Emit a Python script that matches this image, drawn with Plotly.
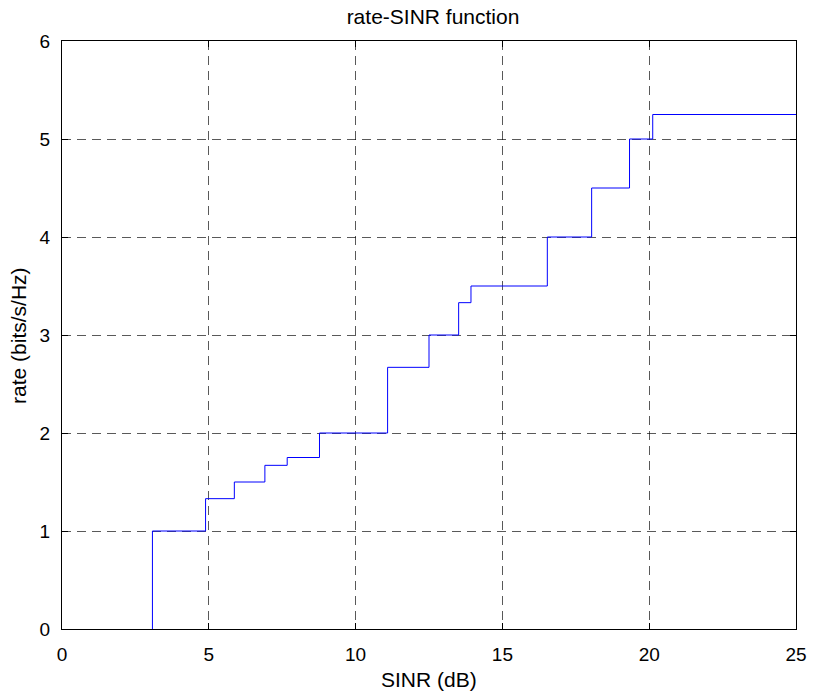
import plotly.graph_objects as go

# SINR thresholds (dB) where the rate steps up, and the rate reached at each step
sinr_thresholds = [3.08, 4.89, 5.87, 6.91, 7.67, 8.77, 11.09, 12.5, 13.51, 13.93, 16.53, 18.04, 19.33, 20.12]
rates = [1.0, 1.33, 1.5, 1.67, 1.75, 2.0, 2.67, 3.0, 3.33, 3.5, 4.0, 4.5, 5.0, 5.25]
sinr_max = 25
x_ticks = [0, 5, 10, 15, 20, 25]
y_ticks = [0, 1, 2, 3, 4, 5, 6]

xs = [sinr_thresholds[0]] + sinr_thresholds + [sinr_max]
ys = [0] + rates + [rates[-1]]

font = "Liberation Sans, Arial, sans-serif"
W, H = 819, 695
L, R, T, B = 62, 15, 41, 66
plot_w, plot_h = W - L - R, H - T - B

fig = go.Figure()
fig.add_trace(go.Scatter(x=xs, y=ys, mode="lines", line=dict(color="#0000FF", width=1, shape="hv"),
                         showlegend=False, hoverinfo="skip"))

axis_common = dict(showline=True, linecolor="black", linewidth=1, mirror="ticks",
                   ticks="inside", ticklen=6, tickcolor="black", tickwidth=1,
                   showgrid=True, gridcolor="rgba(0,0,0,0.65)", gridwidth=1, griddash="9px,6px",
                   zeroline=False, tickfont=dict(family=font, size=19, color="black"))

fig.update_layout(
    width=W, height=H,
    margin=dict(l=L, r=R, t=T, b=B),
    paper_bgcolor="white", plot_bgcolor="white",
    title=dict(text="rate-SINR function", x=(L + plot_w / 2) / W, xanchor="center",
               y=1 - 17 / H, yanchor="middle",
               font=dict(family=font, size=21, color="black")),
    xaxis=dict(range=[0, sinr_max], tickvals=x_ticks, ticklabelstandoff=8, **axis_common),
    yaxis=dict(range=[0, 6], tickvals=y_ticks, ticklabelstandoff=7, **axis_common),
    annotations=[
        dict(text="SINR (dB)", xref="paper", yref="paper", x=0.5, y=-(679 - (T + plot_h)) / plot_h,
             xanchor="center", yanchor="middle", showarrow=False,
             font=dict(family=font, size=21, color="black")),
        dict(text="rate (bits/s/Hz)", xref="paper", yref="paper", x=(17.5 - L) / plot_w, y=0.5,
             xanchor="center", yanchor="middle", textangle=-90, showarrow=False,
             font=dict(family=font, size=21, color="black")),
    ],
)

fig.write_html("out.html")
